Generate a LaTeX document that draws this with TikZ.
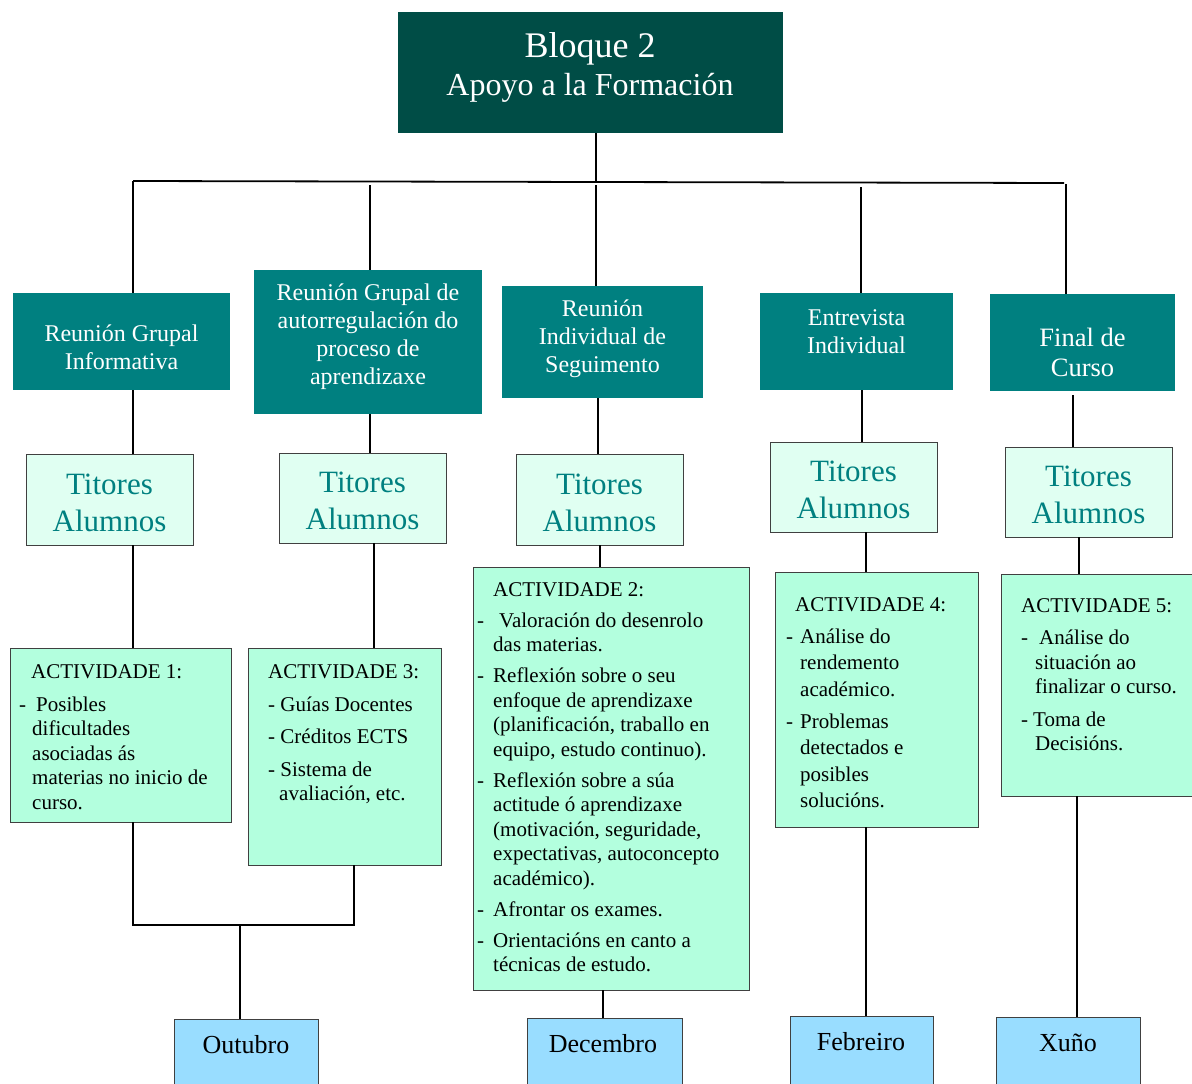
\documentclass[tikz,border=0pt]{standalone}
\usepackage{fontspec}
\setmainfont{Liberation Serif}
\definecolor{topc}{RGB}{0,77,70}
\definecolor{tealc}{RGB}{0,128,128}
\definecolor{titc}{RGB}{224,255,242}
\definecolor{actc}{RGB}{179,255,222}
\definecolor{monc}{RGB}{153,221,255}
\definecolor{bordc}{RGB}{64,64,64}
\newcommand\mkbox[7]{\node[#6, minimum width={(#4-#2)*1pt}, minimum height={(#5-#3)*1pt}] (#1) at ({(#2+#4)/2},{(#3+#5)/2}) {#7};}
\newcommand\titlbl{\rule{0pt}{27pt}Titores\\Alumnos}
\begin{document}
\begin{tikzpicture}[x=1pt,y=-1pt,
  plainbox/.style={rectangle, inner sep=0pt, outer sep=0pt},
  topbox/.style={plainbox, fill=topc},
  tealbox/.style={plainbox, fill=tealc},
  titbox/.style={plainbox, fill=titc, draw=bordc, line width=1pt, text=tealc, align=center, font=\fontsize{31}{37}\selectfont},
  actbox/.style={plainbox, fill=actc, draw=bordc, line width=1pt},
  monbox/.style={plainbox, fill=monc, draw=bordc, line width=1pt},
  tealtxt/.style={inner sep=0pt, text=white, align=center, font=\fontsize{24}{28}\selectfont},
  acttxt/.style={inner sep=0pt, anchor=north west, align=left},
  montxt/.style={inner sep=0pt, font=\fontsize{26}{30}\selectfont},
  conn/.style={draw=black, line width=1.8pt}]
\useasboundingbox (0,0) rectangle (1192,1084);
\clip (0,0) rectangle (1192,1084);

% top box
\mkbox{top}{398}{12}{783}{133}{topbox}{}
\node[inner sep=0pt, anchor=base, text=white, font=\fontsize{36}{40}\selectfont] (topt1) at (590,57) {Bloque 2};
\node[inner sep=0pt, anchor=base, text=white, font=\fontsize{32}{36}\selectfont] (topt2) at (590,95) {Apoyo a la Formación};

% teal boxes
\mkbox{r1}{13}{293}{230}{390}{tealbox}{}
\mkbox{r2}{254}{270}{482}{414}{tealbox}{}
\mkbox{r3}{502}{286}{703}{398}{tealbox}{}
\mkbox{r4}{760}{293}{953}{390}{tealbox}{}
\mkbox{r5}{990}{294}{1175}{391}{tealbox}{}
\node[tealtxt] (r1t) at (121.5,347) {Reunión Grupal\\Informativa};
\node[tealtxt] (r2t) at (368,337) {Reunión Grupal de\\autorregulación do\\proceso de\\aprendizaxe};
\node[tealtxt] (r3t) at (602.5,339) {Reunión\\Individual de\\Seguimento};
\node[tealtxt] (r4t) at (856.5,332) {Entrevista\\Individual};
\node[tealtxt, font=\fontsize{26.5}{30}\selectfont] (r5t) at (1082.5,352) {Final de\\Curso};

% titores boxes
\mkbox{t1}{26}{454}{193}{545}{titbox}{\titlbl}
\mkbox{t2}{279}{453}{446}{543}{titbox}{\titlbl}
\mkbox{t3}{516}{454}{683}{545}{titbox}{\titlbl}
\mkbox{t4}{770}{442}{937}{532}{titbox}{\titlbl}
\mkbox{t5}{1005}{447}{1172}{537}{titbox}{\titlbl}

% activity boxes
\mkbox{a1}{10}{648}{231}{822}{actbox}{}
\mkbox{a3}{248}{648}{441}{865}{actbox}{}
\mkbox{a2}{473}{567}{749}{990}{actbox}{}
\mkbox{a4}{775}{572}{978}{827}{actbox}{}
\mkbox{a5}{1001}{574}{1200}{796}{actbox}{}

\node[acttxt, font=\fontsize{21}{24.5}\selectfont] (a1t) at (19,658) {\rule{0pt}{20pt}\hspace{12pt}ACTIVIDADE 1:\\[8.5pt]
\makebox[17pt][l]{-}Posibles\\
\hspace{13pt}dificultades\\
\hspace{13pt}asociadas ás\\
\hspace{13pt}materias no inicio de\\
\hspace{13pt}curso.};

\node[acttxt, font=\fontsize{21}{24.5}\selectfont] (a3t) at (268,658) {\rule{0pt}{20pt}ACTIVIDADE 3:\\[8.5pt]
- Guías Docentes\\[7.5pt]
- Créditos ECTS\\[8.5pt]
- Sistema de\\
\hspace{11pt}avaliación, etc.};

\node[acttxt, font=\fontsize{21}{24.5}\selectfont] (a2t) at (477,576) {\rule{0pt}{20pt}\hspace{16pt}ACTIVIDADE 2:\\[6.5pt]
\makebox[22pt][l]{-}Valoración do desenrolo\\
\hspace{16pt}das materias.\\[6.5pt]
\makebox[16pt][l]{-}Reflexión sobre o seu\\
\hspace{16pt}enfoque de aprendizaxe\\
\hspace{16pt}(planificación, traballo en\\
\hspace{16pt}equipo, estudo continuo).\\[6.5pt]
\makebox[16pt][l]{-}Reflexión sobre a súa\\
\hspace{16pt}actitude ó aprendizaxe\\
\hspace{16pt}(motivación, seguridade,\\
\hspace{16pt}expectativas, autoconcepto\\
\hspace{16pt}académico).\\[6.5pt]
\makebox[16pt][l]{-}Afrontar os exames.\\[6.5pt]
\makebox[16pt][l]{-}Orientacións en canto a\\
\hspace{16pt}técnicas de estudo.};

\node[acttxt, font=\fontsize{21}{26.5}\selectfont] (a4t) at (786,591) {\rule{0pt}{20pt}\hspace{9pt}ACTIVIDADE 4:\\[5.5pt]
\makebox[14pt][l]{-}Análise do\\
\hspace{14pt}rendemento\\
\hspace{14pt}académico.\\[5.5pt]
\makebox[14pt][l]{-}Problemas\\
\hspace{14pt}detectados e\\
\hspace{14pt}posibles\\
\hspace{14pt}solucións.};

\node[acttxt, font=\fontsize{21}{24.5}\selectfont] (a5t) at (1021,592) {\rule{0pt}{20pt}ACTIVIDADE 5:\\[8pt]
\makebox[18pt][l]{-}Análise do\\
\hspace{14pt}situación ao\\
\hspace{14pt}finalizar o curso.\\[8pt]
\makebox[12pt][l]{-}Toma de\\
\hspace{14pt}Decisións.};

% month boxes
\mkbox{m1}{174}{1019}{318}{1110}{monbox}{}
\mkbox{m2}{527}{1018}{682}{1110}{monbox}{}
\mkbox{m3}{790}{1016}{933}{1110}{monbox}{}
\mkbox{m4}{996}{1017}{1140}{1110}{monbox}{}
\node[montxt] (m1t) at (246,1045) {Outubro};
\node[montxt] (m2t) at (603,1044) {Decembro};
\node[montxt] (m3t) at (861,1042) {Febreiro};
\node[montxt] (m4t) at (1068,1043) {Xuño};

% connectors: top to bus
\coordinate (c0) at (596,182);
\coordinate (busL) at (133,181);
\coordinate (busR) at (1064,183);
\draw[conn] (top.south -| c0) -- (c0);
\draw[conn] (busL) -- (busR);
\coordinate (c2) at (370,185);
\coordinate (c3) at (596,185);
\coordinate (c4) at (861,187);
\coordinate (c5) at (1066,184);
\draw[conn] (busL) -- (busL |- r1.north);
\draw[conn] (c2) -- (c2 |- r2.north);
\draw[conn] (c3) -- (c3 |- r3.north);
\draw[conn] (c4) -- (c4 |- r4.north);
\draw[conn] (c5) -- (c5 |- r5.north);

% teal to titores
\coordinate (d1) at (133,0);
\coordinate (d2) at (370,0);
\coordinate (d3) at (598,0);
\coordinate (d4) at (862,0);
\coordinate (d5) at (1073,395);
\draw[conn] (r1.south -| d1) -- (t1.north -| d1);
\draw[conn] (r2.south -| d2) -- (t2.north -| d2);
\draw[conn] (r3.south -| d3) -- (t3.north -| d3);
\draw[conn] (r4.south -| d4) -- (t4.north -| d4);
\draw[conn] (d5) -- (t5.north -| d5);

% titores to activities
\coordinate (e1) at (133,0);
\coordinate (e2) at (374,0);
\coordinate (e3) at (600,0);
\coordinate (e4) at (866,0);
\coordinate (e5) at (1079,0);
\draw[conn] (t1.south -| e1) -- (a1.north -| e1);
\draw[conn] (t2.south -| e2) -- (a3.north -| e2);
\draw[conn] (t3.south -| e3) -- (a2.north -| e3);
\draw[conn] (t4.south -| e4) -- (a4.north -| e4);
\draw[conn] (t5.south -| e5) -- (a5.north -| e5);

% activities to months
\coordinate (j1) at (133,925);
\coordinate (j2) at (354,925);
\coordinate (jm) at (240,925);
\draw[conn] (a1.south -| j1) -- (j1) -- (j2) -- (a3.south -| j2);
\draw[conn] (jm) -- (m1.north -| jm);
\coordinate (g2) at (603,0);
\coordinate (g3) at (866,0);
\coordinate (g4) at (1077,0);
\draw[conn] (a2.south -| g2) -- (m2.north -| g2);
\draw[conn] (a4.south -| g3) -- (m3.north -| g3);
\draw[conn] (a5.south -| g4) -- (m4.north -| g4);
\end{tikzpicture}
\end{document}
